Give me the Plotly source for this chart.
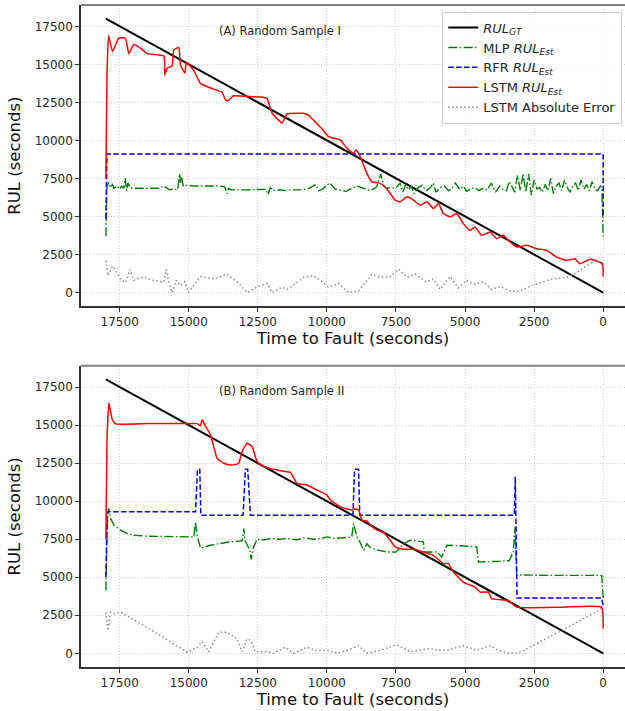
import plotly.graph_objects as go

# ---------------- Panel A data ----------------
gt_x = [18000, 0]
gt_y = [18000, 0]

a_lstm_x = [18000, 17960, 17900, 17760, 17530, 17290, 17170, 16985, 16700, 16500, 15902, 15866, 15779, 15600,
            15540, 15359, 15298, 15143, 15081, 14817, 14575, 14095, 13791, 13672, 13574, 13372, 12800, 12350,
            12165, 11984, 11623, 11442, 11000, 10842, 10661, 10358, 10150, 9938, 9516, 9275, 9035, 8937, 8793,
            8552, 8370, 8130, 7889, 7528, 7347, 7105, 6864, 6624, 6383, 6143, 5963, 5782, 5541, 5300, 5059,
            4817, 4637, 4396, 4095, 3853, 3614, 3433, 3130, 2768, 2407, 2046, 1684, 1323, 1023, 842, 481, 181,
            22, 0]
a_lstm_y = [7500, 14200, 16900, 15850, 16730, 16700, 15700, 16300, 16000, 15700, 15550, 14300, 14750, 14900,
            15950, 16100, 14950, 14430, 15120, 14600, 13750, 13370, 13150, 12660, 12620, 12930, 12880, 12850,
            12750, 11800, 11150, 11740, 11780, 11790, 11650, 11100, 10700, 10250, 10030, 9480, 9150, 9370, 8930,
            7830, 7280, 7210, 6950, 6070, 5960, 6290, 6070, 5740, 5960, 5520, 5850, 5190, 4970, 5190, 4530,
            4090, 4310, 3760, 3980, 3540, 3760, 3430, 2990, 3100, 2880, 2770, 2330, 2110, 2220, 1890, 2180, 2040,
            1890, 1050]

a_mlp_x = [18000, 17960, 17900, 17850, 17760, 17700, 17600, 17500, 17430, 17350, 17300, 17250, 17200, 17100,
           16900, 16500, 16100, 15900, 15800, 15700, 15550, 15400, 15330, 15298, 15260, 15200, 15100, 14800,
           14400, 13900, 13700, 13650, 13610, 13560, 13450, 13000, 12500, 12200, 12130, 12050, 11950, 11700,
           11500, 11300, 10900, 10700, 10400, 10300, 10150, 9900, 9700, 9500, 9300, 9100, 8900, 8600, 8400,
           8200, 8050, 7950, 7850, 7700, 7500, 7350, 7250, 7150, 7050, 6950, 6850, 6700, 6550, 6400, 6250,
           6150, 6050, 5900, 5750, 5600, 5500, 5350, 5200, 5050, 4950, 4800, 4650, 4500, 4350, 4200, 4050,
           3900, 3750, 3650, 3500, 3400, 3300, 3200, 3100, 3000, 2900, 2800, 2700, 2600, 2500, 2400, 2300,
           2200, 2100, 2000, 1900, 1800, 1700, 1600, 1500, 1400, 1300, 1200, 1100, 1000, 900, 800, 700,
           600, 500, 400, 300, 200, 100, 50, 0]
a_mlp_y = [3700, 7000, 7250, 6900, 7100, 6850, 7000, 6800, 7000, 6850, 7500, 6700, 7200, 6850,
           6850, 6850, 6850, 7000, 6850, 6750, 6800, 6750, 7800, 7200, 7600, 7000, 7050, 7000,
           7000, 7000, 6950, 6700, 6500, 6850, 6750, 6750, 6750, 6780, 6450, 6900, 6700, 6750,
           6700, 6750, 6750, 6800, 7100, 6700, 6800, 7200, 6800, 6700, 6650, 6850, 7000, 6800, 6700,
           6950, 7800, 7000, 6850, 6900, 6850, 7200, 6600, 7100, 6750, 7000, 6500, 6900, 7050, 6700, 6900,
           7200, 6600, 6900, 7000, 6700, 6800, 7200, 6800, 7000, 6650, 6800, 6900, 6700, 6850, 6750, 7200,
           6600, 7000, 6800, 6700, 7300, 6900, 6600, 7700, 6700, 7800, 6600, 7800, 6400, 7400, 6800, 6900,
           6600, 7100, 6700, 7500, 6500, 7000, 7200, 6700, 7400, 6900, 6600, 7000, 7200, 6700, 7400, 6800,
           7100, 6700, 7300, 6800, 6700, 7000, 6900, 3700]

a_rfr_x = [18000, 17960, 100, 0, 0]
a_rfr_y = [4850, 9100, 9100, 9100, 4950]

a_err_x = [18000, 17925, 17766, 17650, 17470, 17290, 17130, 16985, 16635, 16300, 15902, 15815, 15720, 15600,
           15450, 15300, 15150, 15010, 14575, 14095, 13610, 13250, 12887, 12500, 12165, 11984, 11623, 11442,
           11200, 10842, 10480, 10238, 9938, 9577, 9216, 8854, 8370, 8070, 7700, 7407, 7100, 6805, 6400,
           6143, 5902, 5541, 5240, 4950, 4700, 4337, 4035, 3733, 3372, 3011, 2650, 2289, 1807, 1323, 962,
           601, 240, 58, 0]
a_err_y = [2100, 1100, 1720, 1500, 870, 650, 1500, 800, 1030, 800, 690, 1500, 650, 0,
           800, 450, 700, 0, 1050, 900, 1200, 700, 0, 400, 600, 0, 350, 200,
           500, 1000, 1100, 800, 350, 600, 0, 100, 1200, 1000, 1050, 1540, 1000, 1210, 700,
           900, 200, 1050, 300, 800, 550, 700, 200, 400, 100, 100, 400, 650, 900, 1000, 1300,
           1760, 2100, 1850, 1050]

# ---------------- Panel B data ----------------
b_lstm_x = [18000, 17960, 17890, 17766, 17647, 16500, 15000, 14695, 14580, 14514, 14400, 14214, 13972, 13731,
            13491, 13300, 13190, 13069, 12887, 12707, 12526, 12287, 11804, 11500, 11323, 11081, 10719, 10358,
            10000, 9877, 9516, 9093, 9000, 8854, 8732, 8552, 8420, 8190, 7950, 7709, 7528, 7227, 6866, 6505,
            6143, 5782, 5602, 5421, 5059, 4637, 4456, 4156, 4035, 3433, 3130, 1500, 58, 0]
b_lstm_y = [7500, 14000, 16450, 15350, 15085, 15100, 15100, 15100, 14950, 15350, 14950, 14360, 12822, 12493,
            12383, 12420, 12493, 13258, 13812, 13592, 12603, 12270, 12050, 11950, 11900, 11174, 11064, 10732,
            10400, 10100, 9628, 9412, 9500, 9430, 8752, 8700, 8420, 8093, 7950, 7434, 6992, 6840, 6840, 6662,
            6443, 5897, 5900, 5343, 4683, 4353, 4023, 4023, 3590, 3474, 3035, 3035, 3035, 1610]

b_mlp_x = [18000, 17950, 17890, 17829, 17700, 17466, 17200, 16985, 16500, 15500, 14817, 14756, 14700, 14575,
           14214, 13610, 13069, 13009, 12960, 12790, 12742, 12650, 12526, 12300, 12000, 11700, 11400, 11100,
           10800, 10500, 10200, 9998, 9700, 9400, 9100, 9035, 8914, 8800, 8673, 8550, 8400, 8200, 7829, 7500,
           7227, 6986, 6505, 6480, 6000, 5842, 5662, 5300, 4900, 4577, 4517, 4000, 3733, 3400, 3252, 3191,
           3130, 2000, 50, 0]
b_mlp_y = [4135, 8500, 9524, 8866, 8400, 8093, 7850, 7763, 7700, 7650, 7650, 8641, 7750, 6926,
           7100, 7300, 7400, 8200, 7400, 6774, 6180, 7000, 7500, 7450, 7550, 7500, 7550, 7450,
           7600, 7500, 7550, 7650, 7550, 7600, 7650, 8535, 7650, 7300, 6774, 7200, 6900, 6800, 6662, 6650,
           7200, 7434, 7330, 6662, 6662, 6332, 7100, 7080, 7050, 7000, 6003, 6003, 6050, 6100, 6662, 8300,
           5150, 5123, 5123, 3590]

b_rfr_x = [18000, 17950, 14755, 14683, 14600, 14563, 13034, 12949, 12866, 12768, 9057, 8998, 8854, 8811,
           3216, 3180, 3119, 60, 0]
b_rfr_y = [5013, 9300, 9300, 12097, 12097, 9083, 9083, 12097, 12097, 9083, 9083, 12097, 12097, 9083,
           9083, 11610, 3628, 3628, 3166]

b_err_x = [18000, 17925, 17829, 17700, 17466, 16500, 15057, 14695, 14514, 14275, 13913, 13610, 13249, 13069,
           12887, 12750, 12587, 12165, 11926, 11503, 11203, 10719, 10400, 9998, 9637, 9250, 8854, 8552,
           8070, 7467, 6986, 6600, 6324, 5900, 5662, 5059, 4577, 4095, 3800, 3433, 3072, 1500, 58, 0]
b_err_y = [2700, 1497, 2704, 2600, 2700, 1700, 66, 400, 770, 100, 1385, 1385, 950, 100,
           950, 850, 100, 100, 0, 400, 0, 400, 178, 200, 0, 200, 500, 0,
           200, 560, 100, 200, 300, 200, 200, 500, 200, 500, 200, 0, 0, 1500, 2928, 1610]

x_ticks = [17500, 15000, 12500, 10000, 7500, 5000, 2500, 0]
y_ticks = [0, 2500, 5000, 7500, 10000, 12500, 15000, 17500]
panel_labels = ["(A) Random Sample I", "(B) Random Sample II"]
legend_names = ["<i>RUL</i><sub><i>GT</i></sub>", "MLP <i>RUL</i><sub><i>Est</i></sub>",
                "RFR <i>RUL</i><sub><i>Est</i></sub>", "LSTM <i>RUL</i><sub><i>Est</i></sub>",
                "LSTM Absolute Error"]

FONT = "DejaVu Sans"
fig = go.Figure()

panels = [
    (a_mlp_x, a_mlp_y, a_rfr_x, a_rfr_y, a_lstm_x, a_lstm_y, a_err_x, a_err_y),
    (b_mlp_x, b_mlp_y, b_rfr_x, b_rfr_y, b_lstm_x, b_lstm_y, b_err_x, b_err_y),
]

for i, (mx, my, rx, ry, lx, ly, ex, ey) in enumerate(panels):
    xa = "x" if i == 0 else "x2"
    ya = "y" if i == 0 else "y2"
    show = i == 0
    fig.add_trace(go.Scatter(x=gt_x, y=gt_y, mode="lines", name=legend_names[0], showlegend=show,
                             line=dict(color="black", width=2), xaxis=xa, yaxis=ya))
    fig.add_trace(go.Scatter(x=mx, y=my, mode="lines", name=legend_names[1], showlegend=show,
                             line=dict(color="green", width=1.4, dash="9px,2.4px,1.5px,2.4px"), xaxis=xa, yaxis=ya))
    fig.add_trace(go.Scatter(x=rx, y=ry, mode="lines", name=legend_names[2], showlegend=show,
                             line=dict(color="blue", width=1.5, dash="5.5px,2.4px"), xaxis=xa, yaxis=ya))
    fig.add_trace(go.Scatter(x=lx, y=ly, mode="lines", name=legend_names[3], showlegend=show,
                             line=dict(color="red", width=1.5, shape="spline", smoothing=0.4), xaxis=xa, yaxis=ya))
    fig.add_trace(go.Scatter(x=ex, y=ey, mode="lines", name=legend_names[4], showlegend=show,
                             line=dict(color="#8c8c8c", width=1.5, dash="1.5px,2.5px"), xaxis=xa, yaxis=ya))

axis_common = dict(
    showgrid=True, gridcolor="#cfcfcf", griddash="1px,2px", gridwidth=1,
    showline=True, linecolor="#333333", linewidth=1.5,
    ticks="outside", ticklen=4, tickcolor="#333333", tickwidth=1,
    zeroline=False,
    tickfont=dict(family=FONT, size=12, color="#262626"),
)
title_font = dict(family=FONT, size=16.5, color="#111111")

fig.update_layout(
    width=625, height=711,
    margin=dict(l=81, r=0, t=5, b=44),
    paper_bgcolor="white", plot_bgcolor="white",
    font=dict(family=FONT, color="#262626"),
    xaxis=dict(domain=[0, 1], anchor="y", range=[18900, -790], tickvals=x_ticks,
               ticktext=[str(v) for v in x_ticks],
               title=dict(text="Time to Fault (seconds)", font=title_font, standoff=4),
               **axis_common),
    yaxis=dict(domain=[0.545, 1], anchor="x", range=[-900, 18900], tickvals=y_ticks,
               ticktext=[str(v) for v in y_ticks],
               title=dict(text="RUL (seconds)", font=title_font, standoff=10),
               **axis_common),
    xaxis2=dict(domain=[0, 1], anchor="y2", range=[18900, -790], tickvals=x_ticks,
                ticktext=[str(v) for v in x_ticks],
                title=dict(text="Time to Fault (seconds)", font=title_font, standoff=4),
                **axis_common),
    yaxis2=dict(domain=[0, 0.455], anchor="x2", range=[-900, 18900], tickvals=y_ticks,
                ticktext=[str(v) for v in y_ticks],
                title=dict(text="RUL (seconds)", font=title_font, standoff=10),
                **axis_common),
    legend=dict(x=0.995, y=0.99, xanchor="right", yanchor="top",
                bgcolor="rgba(255,255,255,0.85)", bordercolor="#cccccc", borderwidth=1,
                font=dict(family=FONT, size=13, color="#262626"), tracegroupgap=0),
    showlegend=True,
)

# top spines (gray), panel labels
for xr, yr, label in [("x domain", "y domain", panel_labels[0]), ("x2 domain", "y2 domain", panel_labels[1])]:
    fig.add_shape(type="line", xref=xr, yref=yr, x0=0, x1=1, y0=1, y1=1,
                  line=dict(color="#808080", width=2))
    fig.add_annotation(xref=xr, yref=yr, x=0.25, y=0.915, xanchor="left", yanchor="middle",
                       text=label, showarrow=False, font=dict(family=FONT, size=11.5, color="#262626"))

fig.write_html("out.html")
